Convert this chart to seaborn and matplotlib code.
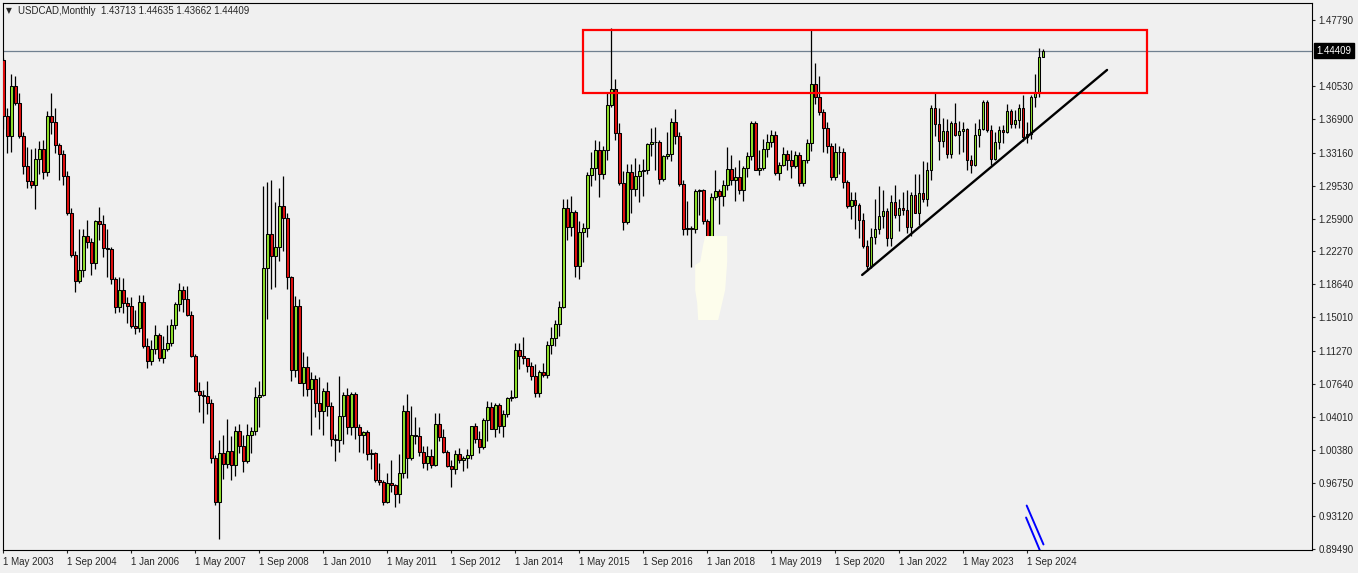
import numpy as np
import pandas as pd
import matplotlib
matplotlib.use("Agg")
import matplotlib.pyplot as plt
import matplotlib.transforms as mtransforms
from matplotlib.patches import Rectangle
import seaborn as sns

# Monthly USDCAD candles, May 2003 .. Jan 2025 (one row per year)
opens = [
    1.4340, 1.3720, 1.3500, 1.4050, 1.3860, 1.3500, 1.3170, 1.3000,
    1.2960, 1.3250, 1.3360, 1.3100, 1.3720, 1.3650, 1.3400, 1.3300, 1.3060, 1.2650, 1.2190, 1.1900,
    1.2020, 1.2400, 1.2330, 1.2100, 1.2560, 1.2530, 1.2260, 1.2250, 1.1920, 1.1620, 1.1800, 1.1660,
    1.1630, 1.1400, 1.1380, 1.1670, 1.1180, 1.1020, 1.1150, 1.1310, 1.1050, 1.1150, 1.1220, 1.1420,
    1.1650, 1.1800, 1.1700, 1.1530, 1.1070, 1.0690, 1.0650, 1.0630, 1.0560, 0.9950, 0.9460, 1.0000,
    0.9880, 1.0030, 0.9870, 1.0250, 1.0080, 0.9920, 1.0200, 1.0250, 1.0620, 1.0640, 1.2050, 1.2420,
    1.2180, 1.2280, 1.2730, 1.2600, 1.1950, 1.0920, 1.1630, 1.0780, 1.0950, 1.0710, 1.0820, 1.0560,
    1.0470, 1.0690, 1.0520, 1.0160, 1.0150, 1.0410, 1.0640, 1.0290, 1.0660, 1.0290, 1.0200, 1.0240,
    0.9990, 1.0010, 0.9710, 0.9690, 0.9460, 0.9680, 0.9650, 0.9550, 0.9780, 1.0470, 0.9950, 1.0200,
    1.0190, 1.0020, 0.9890, 0.9970, 0.9870, 1.0330, 1.0180, 1.0020, 0.9860, 0.9830, 0.9990, 0.9930,
    0.9950, 0.9980, 1.0300, 1.0160, 1.0070, 1.0370, 1.0510, 1.0270, 1.0530, 1.0300, 1.0430, 1.0610,
    1.0620, 1.1140, 1.1070, 1.1050, 1.0960, 1.0850, 1.0670, 1.0900, 1.0870, 1.1200, 1.1270, 1.1430,
    1.1620, 1.2710, 1.2500, 1.2660, 1.2070, 1.2440, 1.2490, 1.3070, 1.3150, 1.3350, 1.3080, 1.3350,
    1.3840, 1.4020, 1.3530, 1.2980, 1.2550, 1.3100, 1.2920, 1.3060, 1.3110, 1.3120, 1.3410, 1.3430,
    1.3430, 1.3030, 1.3280, 1.3300, 1.3650, 1.3500, 1.2970, 1.2470, 1.2490, 1.2480, 1.2890, 1.2900,
    1.2560, 1.2290, 1.2830, 1.2890, 1.2840, 1.2960, 1.3140, 1.3010, 1.3050, 1.2910, 1.3150, 1.3280,
    1.3640, 1.3130, 1.3150, 1.3360, 1.3430, 1.3510, 1.3090, 1.3180, 1.3300, 1.3240, 1.3170, 1.3290,
    1.2980, 1.3230, 1.3420, 1.4070, 1.3930, 1.3760, 1.3590, 1.3390, 1.3050, 1.3320, 1.3320, 1.2990,
    1.2730, 1.2790, 1.2740, 1.2570, 1.2290, 1.2070, 1.2390, 1.2470, 1.2620, 1.2670, 1.2380, 1.2770,
    1.2630, 1.2710, 1.2680, 1.2500, 1.2850, 1.2650, 1.2870, 1.2810, 1.3130, 1.3810, 1.3630, 1.3450,
    1.3550, 1.3300, 1.3640, 1.3510, 1.3550, 1.3580, 1.3240, 1.3180, 1.3510, 1.3580, 1.3870, 1.3570,
    1.3250, 1.3430, 1.3570, 1.3540, 1.3780, 1.3630, 1.3680, 1.3810, 1.3490, 1.3520, 1.3930, 1.3985,
    1.43713,
]
highs = [
    1.4365, 1.3810, 1.4180, 1.4160, 1.3970, 1.3540, 1.3380, 1.3360,
    1.3370, 1.3440, 1.3460, 1.3770, 1.3970, 1.3810, 1.3420, 1.3350, 1.3110, 1.2710, 1.2230, 1.2480,
    1.2470, 1.2570, 1.2370, 1.2570, 1.2720, 1.2630, 1.2470, 1.2280, 1.1940, 1.1940, 1.1930, 1.1720,
    1.1720, 1.1580, 1.1750, 1.1750, 1.1270, 1.1250, 1.1420, 1.1330, 1.1300, 1.1420, 1.1480, 1.1670,
    1.1880, 1.1850, 1.1850, 1.1570, 1.1100, 1.0790, 1.0700, 1.0800, 1.0600, 0.9980, 1.0150, 1.0200,
    1.0380, 1.0190, 1.0300, 1.0320, 1.0200, 1.0320, 1.0290, 1.0730, 1.0800, 1.2950, 1.2990, 1.3010,
    1.2770, 1.2930, 1.3060, 1.2650, 1.1960, 1.1740, 1.1700, 1.1120, 1.1080, 1.0900, 1.0870, 1.0840,
    1.0720, 1.0790, 1.0570, 1.0220, 1.0850, 1.0680, 1.0720, 1.0680, 1.0680, 1.0330, 1.0250, 1.0260,
    1.0050, 1.0020, 0.9900, 0.9710, 0.9790, 0.9930, 0.9660, 0.9990, 1.0530, 1.0660, 1.0520, 1.0400,
    1.0290, 1.0080, 1.0080, 1.0050, 1.0450, 1.0450, 1.0270, 1.0040, 0.9930, 1.0040, 1.0060, 0.9970,
    1.0050, 1.0300, 1.0340, 1.0250, 1.0390, 1.0580, 1.0570, 1.0560, 1.0560, 1.0480, 1.0620, 1.0700,
    1.1220, 1.1220, 1.1280, 1.1050, 1.1010, 1.0990, 1.0920, 1.1000, 1.1240, 1.1390, 1.1470, 1.1680,
    1.2800, 1.2800, 1.2840, 1.2680, 1.2560, 1.2540, 1.3100, 1.3320, 1.3460, 1.3450, 1.3390, 1.3990,
    1.4690, 1.4130, 1.3640, 1.3110, 1.3190, 1.3190, 1.3260, 1.3190, 1.3250, 1.3420, 1.3590, 1.3600,
    1.3460, 1.3290, 1.3540, 1.3700, 1.3800, 1.3540, 1.3010, 1.2780, 1.2510, 1.2920, 1.2920, 1.2920,
    1.2590, 1.2870, 1.3130, 1.2920, 1.3010, 1.3380, 1.3290, 1.3160, 1.3230, 1.3170, 1.3320, 1.3660,
    1.3670, 1.3340, 1.3470, 1.3520, 1.3570, 1.3560, 1.3210, 1.3380, 1.3340, 1.3350, 1.3330, 1.3320,
    1.3240, 1.3470, 1.4670, 1.4300, 1.4160, 1.3800, 1.3650, 1.3420, 1.3420, 1.3390, 1.3370, 1.3010,
    1.2880, 1.2880, 1.2760, 1.2650, 1.2350, 1.2490, 1.2810, 1.2950, 1.2900, 1.2710, 1.2850, 1.2960,
    1.2810, 1.2880, 1.2900, 1.2880, 1.3080, 1.3080, 1.3220, 1.3210, 1.3840, 1.3980, 1.3810, 1.3700,
    1.3690, 1.3660, 1.3860, 1.3670, 1.3650, 1.3590, 1.3290, 1.3640, 1.3690, 1.3900, 1.3900, 1.3620,
    1.3540, 1.3610, 1.3620, 1.3850, 1.3800, 1.3790, 1.3850, 1.3950, 1.3650, 1.3950, 1.4180, 1.4470,
    1.44635,
]
lows = [
    1.3580, 1.3310, 1.3320, 1.3840, 1.3480, 1.3080, 1.2930, 1.2930,
    1.2690, 1.3080, 1.3030, 1.3060, 1.3520, 1.3310, 1.3020, 1.2960, 1.2630, 1.2170, 1.1775, 1.1880,
    1.1940, 1.2260, 1.1970, 1.2030, 1.2350, 1.2170, 1.1950, 1.1870, 1.1550, 1.1560, 1.1550, 1.1440,
    1.1380, 1.1320, 1.1340, 1.1160, 1.0940, 1.0970, 1.1100, 1.1020, 1.1000, 1.1130, 1.1190, 1.1370,
    1.1570, 1.1560, 1.1520, 1.1060, 1.0680, 1.0460, 1.0340, 1.0440, 0.9900, 0.9430, 0.9060, 0.9720,
    0.9840, 0.9710, 0.9750, 1.0000, 0.9800, 0.9900, 1.0000, 1.0200, 1.0290, 1.0630, 1.1480, 1.1810,
    1.1840, 1.2120, 1.2230, 1.1810, 1.0800, 1.0840, 1.0780, 1.0630, 1.0630, 1.0200, 1.0400, 1.0270,
    1.0200, 1.0410, 1.0080, 0.9920, 1.0020, 1.0110, 1.0210, 1.0200, 1.0160, 1.0020, 1.0000, 0.9930,
    0.9830, 0.9690, 0.9650, 0.9430, 0.9450, 0.9570, 0.9410, 0.9450, 0.9730, 0.9730, 0.9930, 1.0100,
    0.9970, 0.9840, 0.9820, 0.9840, 0.9860, 1.0140, 1.0000, 0.9850, 0.9630, 0.9770, 0.9900, 0.9810,
    0.9840, 0.9940, 1.0120, 1.0010, 1.0050, 1.0140, 1.0270, 1.0180, 1.0230, 1.0180, 1.0400, 1.0580,
    1.0610, 1.0930, 1.0990, 1.0900, 1.0810, 1.0620, 1.0620, 1.0840, 1.0830, 1.1100, 1.1190, 1.1290,
    1.1600, 1.2350, 1.2400, 1.1940, 1.1920, 1.2110, 1.2390, 1.2950, 1.3010, 1.2830, 1.3030, 1.3240,
    1.3820, 1.3460, 1.2960, 1.2460, 1.2530, 1.2650, 1.2840, 1.2770, 1.2840, 1.3080, 1.3280, 1.3120,
    1.2970, 1.3000, 1.3250, 1.3220, 1.3410, 1.2950, 1.2410, 1.2410, 1.2060, 1.2430, 1.2630, 1.2530,
    1.2250, 1.2250, 1.2790, 1.2530, 1.2730, 1.2910, 1.2960, 1.2780, 1.2860, 1.2780, 1.3050, 1.3240,
    1.3120, 1.3070, 1.3130, 1.3270, 1.3380, 1.3070, 1.3020, 1.3170, 1.3130, 1.3040, 1.3150, 1.2950,
    1.2950, 1.3200, 1.3330, 1.3850, 1.3730, 1.3320, 1.3310, 1.3010, 1.3010, 1.3080, 1.2930, 1.2710,
    1.2590, 1.2470, 1.2370, 1.2270, 1.2010, 1.2040, 1.2310, 1.2420, 1.2490, 1.2290, 1.2290, 1.2600,
    1.2450, 1.2630, 1.2430, 1.2400, 1.2720, 1.2520, 1.2770, 1.2730, 1.3010, 1.3500, 1.3230, 1.3380,
    1.3260, 1.3260, 1.3500, 1.3300, 1.3320, 1.3120, 1.3090, 1.3170, 1.3380, 1.3570, 1.3540, 1.3180,
    1.3230, 1.3360, 1.3420, 1.3530, 1.3590, 1.3590, 1.3590, 1.3440, 1.3420, 1.3470, 1.3820, 1.3930,
    1.43662,
]
closes = [
    1.3720, 1.3500, 1.4050, 1.3860, 1.3500, 1.3170, 1.3000, 1.2960,
    1.3250, 1.3360, 1.3100, 1.3720, 1.3650, 1.3400, 1.3300, 1.3060, 1.2650, 1.2190, 1.1900, 1.2020,
    1.2400, 1.2330, 1.2100, 1.2560, 1.2530, 1.2260, 1.2250, 1.1920, 1.1620, 1.1800, 1.1660, 1.1630,
    1.1400, 1.1380, 1.1670, 1.1180, 1.1020, 1.1150, 1.1310, 1.1050, 1.1150, 1.1220, 1.1420, 1.1650,
    1.1800, 1.1700, 1.1530, 1.1070, 1.0690, 1.0650, 1.0630, 1.0560, 0.9950, 0.9460, 1.0000, 0.9880,
    1.0030, 0.9870, 1.0250, 1.0080, 0.9920, 1.0200, 1.0250, 1.0620, 1.0640, 1.2050, 1.2420, 1.2180,
    1.2280, 1.2730, 1.2600, 1.1950, 1.0920, 1.1630, 1.0780, 1.0950, 1.0710, 1.0820, 1.0560, 1.0470,
    1.0690, 1.0520, 1.0160, 1.0150, 1.0410, 1.0640, 1.0290, 1.0660, 1.0290, 1.0200, 1.0240, 0.9990,
    1.0010, 0.9710, 0.9690, 0.9460, 0.9680, 0.9650, 0.9550, 0.9780, 1.0470, 0.9950, 1.0200, 1.0190,
    1.0020, 0.9890, 0.9970, 0.9870, 1.0330, 1.0180, 1.0020, 0.9860, 0.9830, 0.9990, 0.9930, 0.9950,
    0.9980, 1.0300, 1.0160, 1.0070, 1.0370, 1.0510, 1.0270, 1.0530, 1.0300, 1.0430, 1.0610, 1.0620,
    1.1140, 1.1070, 1.1050, 1.0960, 1.0850, 1.0670, 1.0900, 1.0870, 1.1200, 1.1270, 1.1430, 1.1620,
    1.2710, 1.2500, 1.2660, 1.2070, 1.2440, 1.2490, 1.3070, 1.3150, 1.3350, 1.3080, 1.3350, 1.3840,
    1.4020, 1.3530, 1.2980, 1.2550, 1.3100, 1.2920, 1.3060, 1.3110, 1.3120, 1.3410, 1.3430, 1.3430,
    1.3030, 1.3280, 1.3300, 1.3650, 1.3500, 1.2970, 1.2470, 1.2490, 1.2480, 1.2890, 1.2900, 1.2560,
    1.2290, 1.2830, 1.2890, 1.2840, 1.2960, 1.3140, 1.3010, 1.3050, 1.2910, 1.3150, 1.3280, 1.3640,
    1.3130, 1.3150, 1.3360, 1.3430, 1.3510, 1.3090, 1.3180, 1.3300, 1.3240, 1.3170, 1.3290, 1.2980,
    1.3230, 1.3420, 1.4070, 1.3930, 1.3760, 1.3590, 1.3390, 1.3050, 1.3320, 1.3320, 1.2990, 1.2730,
    1.2790, 1.2740, 1.2570, 1.2290, 1.2070, 1.2390, 1.2470, 1.2620, 1.2670, 1.2380, 1.2770, 1.2630,
    1.2710, 1.2680, 1.2500, 1.2850, 1.2650, 1.2870, 1.2810, 1.3130, 1.3810, 1.3630, 1.3450, 1.3550,
    1.3300, 1.3640, 1.3510, 1.3550, 1.3580, 1.3240, 1.3180, 1.3510, 1.3580, 1.3870, 1.3570, 1.3250,
    1.3430, 1.3570, 1.3540, 1.3780, 1.3630, 1.3680, 1.3810, 1.3490, 1.3520, 1.3930, 1.3985, 1.4371,
    1.44409,
]
first_month = "2003-05-01"

x_tick_labels = ["1 May 2003", "1 Sep 2004", "1 Jan 2006", "1 May 2007", "1 Sep 2008",
                 "1 Jan 2010", "1 May 2011", "1 Sep 2012", "1 Jan 2014", "1 May 2015",
                 "1 Sep 2016", "1 Jan 2018", "1 May 2019", "1 Sep 2020", "1 Jan 2022",
                 "1 May 2023", "1 Sep 2024"]
y_ticks = [1.47790, 1.40530, 1.36900, 1.33160, 1.29530, 1.25900, 1.22270, 1.18640,
           1.15010, 1.11270, 1.07640, 1.04010, 1.00380, 0.96750, 0.93120, 0.89490]
last_price = 1.44409
title = "USDCAD,Monthly  1.43713 1.44635 1.43662 1.44409"

# objects drawn on the chart (month index, price)
box_x = [145.0, 286.0]
box_y = [1.3974, 1.4669]
trend_x = [214.75, 276.0]
trend_y = [1.1968, 1.4228]
blue1_x = [255.9, 260.1]
blue1_y = [0.9426, 0.8997]
blue2_x = [255.75, 259.25]
blue2_y = [0.9294, 0.8926]
smudge_x = [175.5, 181.0, 181.0, 180.5, 179.75, 178.75, 173.75, 173.5, 173.0, 173.0, 174.25, 175.0]
smudge_y = [1.2397, 1.2397, 1.2111, 1.1802, 1.1659, 1.1471, 1.1471, 1.1659, 1.1802, 1.2078, 1.2111, 1.2298]

months = pd.date_range(first_month, periods=len(closes), freq="MS")
df = pd.DataFrame({"month": months, "open": opens, "high": highs,
                   "low": lows, "close": closes})
df["pos"] = np.arange(len(df))
df["up"] = df["close"] >= df["open"]

bg = "#f0f0f0"
sns.set_style("white", {"axes.facecolor": bg, "figure.facecolor": bg,
                        "axes.edgecolor": "black"})
plt.rcParams["font.family"] = ["Liberation Sans", "DejaVu Sans"]

fig = plt.figure(figsize=(13.58, 5.73), dpi=100)
ax = fig.add_axes([3 / 1358, 23 / 573, 1309 / 1358, 547 / 573])
ax.set_facecolor(bg)

# wicks
ax.vlines(df["pos"], df["low"], df["high"], color="black", lw=0.9, zorder=2)
# bodies
body_colors = np.where(df["up"], "#8fe02c", "#e01010")
ax.bar(df["pos"], (df["close"] - df["open"]).abs(),
       bottom=df[["open", "close"]].min(axis=1), width=0.68,
       color=body_colors, edgecolor="black", linewidth=0.75, zorder=3)

# current price line
ax.axhline(last_price, color="#708090", lw=0.9, zorder=1)

# red zone
ax.add_patch(Rectangle((box_x[0], box_y[0]), box_x[1] - box_x[0], box_y[1] - box_y[0],
                       fill=False, edgecolor="#ff0000", lw=1.6, zorder=5))

# trend line and blue marks
sns.lineplot(x=trend_x, y=trend_y, ax=ax, color="black", lw=1.7, zorder=6)
sns.lineplot(x=blue1_x, y=blue1_y, ax=ax, color="#0000ff", lw=1.4, zorder=6)
sns.lineplot(x=blue2_x, y=blue2_y, ax=ax, color="#0000ff", lw=1.4, zorder=6)

# pale smudge left on the chart
ax.fill(smudge_x, smudge_y, color="#fdfdec", lw=0, zorder=4)

ax.set_xlim(-0.1, 327.25)
ax.set_ylim(0.8936, 1.4966)

tick_pos = [int(np.where(months == pd.to_datetime(lbl, format="%d %b %Y"))[0][0])
            for lbl in x_tick_labels]
ax.set_xticks(tick_pos)
ax.set_xticklabels(x_tick_labels, ha="left")
ax.yaxis.tick_right()
ax.set_yticks(y_ticks)
ax.set_yticklabels([f"{v:.5f}" for v in y_ticks])
ax.tick_params(axis="x", direction="out", length=2.2, width=0.8, pad=3, labelsize=7,
               bottom=True)
ax.tick_params(axis="y", direction="out", length=2.2, width=0.8, pad=2.5, labelsize=7,
               right=True, left=False)
for s in ax.spines.values():
    s.set_visible(True)
    s.set_color("black")
    s.set_linewidth(0.8)
ax.set_xlabel("")
ax.set_ylabel("")

trans = mtransforms.blended_transform_factory(ax.transAxes, ax.transData)
ax.text(1.0035, last_price, f"{last_price:.5f}", transform=trans, color="white",
        fontsize=7, va="center", ha="left", clip_on=False,
        bbox=dict(boxstyle="square,pad=0.22", facecolor="black", edgecolor="black"))

fig.text(6 / 1358, 1 - 10.5 / 573, "\u25bc", fontsize=5.5, va="center", ha="left",
         family=["DejaVu Sans"])
fig.text(18 / 1358, 1 - 10.5 / 573, title, fontsize=7, va="center", ha="left")

fig.savefig("out.png", dpi=100, facecolor=bg)
